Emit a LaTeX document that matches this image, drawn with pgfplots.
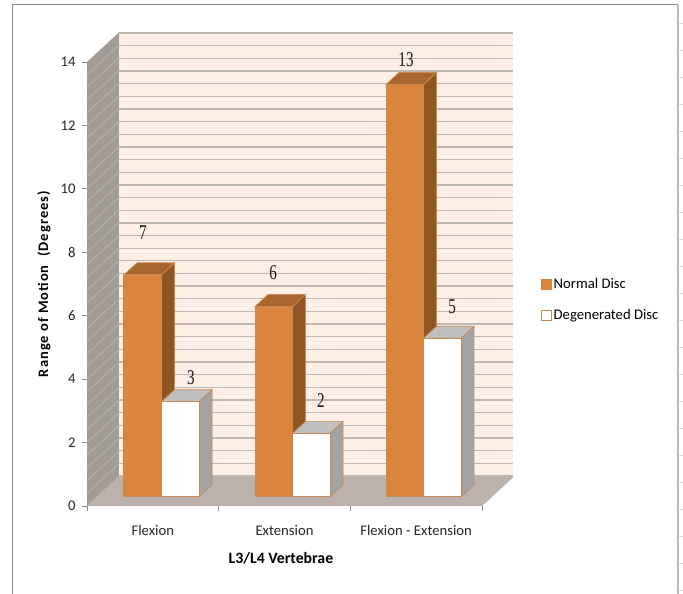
\documentclass[border=0pt]{standalone}
\usepackage{pgfplots}
\pgfplotsset{compat=1.18}
\usepackage{fontspec}
\setmainfont{Carlito}
\newfontfamily\labelserif{Liberation Serif}
\newfontfamily\axistitle[LetterSpace=7]{Carlito Bold}
\definecolor{wallback}{HTML}{FDEEE6}
\definecolor{gridc}{HTML}{BDB8B4}
\definecolor{wallside}{HTML}{A39B96}
\definecolor{floorc}{HTML}{BDB1AB}
\definecolor{axisc}{HTML}{8C8C8C}
\definecolor{framec}{HTML}{8A8A8A}
\definecolor{orangefront}{HTML}{DB843D}
\definecolor{orangeside}{HTML}{8F5624}
\definecolor{orangetop}{HTML}{A8662E}
\definecolor{discedge}{HTML}{C68A55}
\definecolor{whiteside}{HTML}{A3A3A3}
\definecolor{whitetop}{HTML}{BFBFBF}
\definecolor{marginc}{HTML}{D8D8E6}

% Horizontal and vertical depth of the floor and walls, in data units
\def\wallDx{0.243}
\def\wallDy{0.93}
% Depth, width and base height of the bars, in data units
\def\barDx{0.099}
\def\barDy{0.378}
\def\barW{0.285}
\def\barBase{0.29}

% One bar: left edge, value, front, side and top colours, edge colour
\newcommand{\discbar}[6]{%
  \pgfmathsetmacro{\xa}{#1}%
  \pgfmathsetmacro{\xb}{#1+\barW}%
  \pgfmathsetmacro{\xc}{#1+\barW+\barDx}%
  \pgfmathsetmacro{\xd}{#1+\barDx}%
  \pgfmathsetmacro{\yb}{\barBase}%
  \pgfmathsetmacro{\yt}{#2+\barBase}%
  \pgfmathsetmacro{\ybb}{\barBase+\barDy}%
  \pgfmathsetmacro{\ytt}{#2+\barBase+\barDy}%
  \addplot[fill=#4, draw=#6, line width=0.7pt, forget plot]
    coordinates {(\xb,\yb) (\xc,\ybb) (\xc,\ytt) (\xb,\yt)} -- cycle;
  \addplot[fill=#5, draw=#6, line width=0.7pt, forget plot]
    coordinates {(\xa,\yt) (\xb,\yt) (\xc,\ytt) (\xd,\ytt)} -- cycle;
  \addplot[fill=#3, draw=#6, line width=1pt, forget plot]
    coordinates {(\xa,\yb) (\xb,\yb) (\xb,\yt) (\xa,\yt)} -- cycle;
}
% Condensed serif used for the value labels
\newcommand{\valuelabel}[1]{\scalebox{0.72}[1]{#1}}

\begin{document}
\begin{tikzpicture}[x=1pt,y=1pt]
  % Picture extent and outer frame
  \useasboundingbox (0,0) rectangle (683,594);
  \fill[white] (0,0) rectangle (683,594);
  \draw[framec, line width=1.2pt] (12.5,0) -- (12.5,589.3) -- (678,589.3);
  \draw[gridc, line width=2pt] (678,589.3) -- (678,0);
  \foreach \m in {3,30,...,572}{
    \draw[marginc, line width=1pt] (679,\m) -- (683,\m);
  }

  % Back wall with its gridlines
  \begin{axis}[
    at={(119pt,118pt)}, anchor=origin,
    scale only axis, width=394pt, height=443pt,
    xmin=0, xmax=1, ymin=0, ymax=14,
    axis line style={draw=none},
    axis background/.style={fill=wallback},
    clip=false,
    xtick=\empty,
    ytick distance=0.4,
    yticklabels={},
    major tick length=0pt,
    ymajorgrids,
    grid style={gridc, line width=1.3pt},
  ]
  \end{axis}

  \begin{axis}[
    at={(87pt,88pt)}, anchor=origin,
    scale only axis, width=395pt, height=444pt,
    xmin=0, xmax=3, ymin=0, ymax=14,
    clip=false,
    axis x line*=bottom, axis y line*=left,
    axis line style={axisc, line width=1pt, -},
    tick align=outside,
    tick style={axisc, line width=0.8pt},
    ytick={0,2,...,14},
    xtick={0.5,1.5,2.5},
    xticklabels={Flexion,Extension,Flexion - Extension},
    minor xtick={0,1,2,3},
    major tick length=5pt,
    minor tick length=5pt,
    x tick style={draw=none},
    minor x tick style={draw=axisc, line width=0.8pt},
    /pgf/number format/assume math mode=true,
    tick label style={font=\fontsize{14.7}{16}\selectfont, text=black!85},
    xticklabel style={yshift=-11pt},
    yticklabel style={xshift=-3pt},
    xlabel={L3/L4 Vertebrae},
    xlabel style={font=\bfseries\fontsize{15.8}{17}\selectfont, at={(axis description cs:0.491,0)}, anchor=center, yshift=-52pt},
    ylabel={Range of Motion\ \ (Degrees)},
    ylabel style={font=\axistitle\fontsize{14.5}{16}\selectfont, at={(axis description cs:-0.109,0.5)}, anchor=center},
    legend style={at={(axis description cs:1.148,0.464)}, anchor=west, draw=none, fill=none,
      font=\fontsize{14.7}{16}\selectfont, row sep=15pt, inner sep=0pt,
      legend cell align=left},
    legend image code/.code={\draw[#1, line width=1pt] (0pt,-5pt) rectangle (10pt,5pt);},
  ]
    % Side wall
    \addplot[fill=wallside, draw=none, forget plot]
      coordinates {(0,0) (0.243,0.93) (0.243,14.93) (0,14)} -- cycle;
    \foreach \g in {0.4,0.8,...,13.7}{
      \edef\temp{\noexpand\draw[gridc!75!wallside, line width=0.8pt]
        (axis cs:0,\g) -- (axis cs:\wallDx,\g+\wallDy);}
      \temp
    }
    % Floor
    \addplot[fill=floorc, draw=none, forget plot]
      coordinates {(0,0) (3,0) (3.243,0.93) (0.243,0.93)} -- cycle;

    % Bars: Normal Disc 7, 6, 13 and Degenerated Disc 3, 2, 5
    \discbar{0.281}{7}{orangefront}{orangeside}{orangetop}{discedge}
    \discbar{0.566}{3}{white}{whiteside}{whitetop}{discedge}
    \discbar{1.276}{6}{orangefront}{orangeside}{orangetop}{discedge}
    \discbar{1.561}{2}{white}{whiteside}{whitetop}{discedge}
    \discbar{2.271}{13}{orangefront}{orangeside}{orangetop}{discedge}
    \discbar{2.556}{5}{white}{whiteside}{whitetop}{discedge}

    % Value labels
    \begin{scope}[every node/.style={font=\labelserif\fontsize{21}{23}\selectfont, text=black!90}]
      \node at (axis cs:0.425,8.61) {\valuelabel{7}};
      \node at (axis cs:0.790,4.06) {\valuelabel{3}};
      \node at (axis cs:1.413,7.37) {\valuelabel{6}};
      \node at (axis cs:1.777,3.31) {\valuelabel{2}};
      \node at (axis cs:2.423,14.06) {\valuelabel{13}};
      \node at (axis cs:2.773,6.27) {\valuelabel{5}};
    \end{scope}

    % Legend keys
    \addlegendimage{fill=orangefront, draw=orangefront}
    \addlegendentry{Normal Disc}
    \addlegendimage{fill=white, draw=discedge}
    \addlegendentry{Degenerated Disc}
  \end{axis}
\end{tikzpicture}
\end{document}
